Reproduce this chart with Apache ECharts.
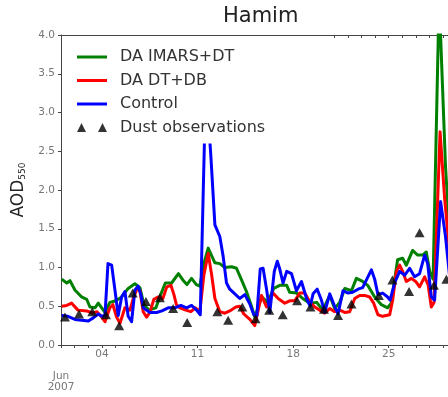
<!DOCTYPE html>
<html>
<head>
<meta charset="utf-8">
<script src="https://cdn.jsdelivr.net/npm/echarts@6/dist/echarts.min.js"></script>
<style>html,body{margin:0;padding:0;background:#fff;}#c{width:448px;height:397px;}</style>
</head>
<body>
<div id="c"></div>
<script>
// x values are days since 1 June 2007 00:00
const tickDays = [3, 10, 17, 24];
const tickLabels = ['04', '11', '18', '25'];
const yTicks = [0, 0.5, 1.0, 1.5, 2.0, 2.5, 3.0, 3.5, 4.0];

const greenDays = [0.05,0.42,0.66,1.02,1.51,1.88,2.12,2.49,2.73,2.98,3.22,3.58,4.02,4.44,4.92,5.41,5.78,6.07,6.44,6.95,7.32,7.64,8.1,8.6,8.92,9.22,9.56,9.91,10.17,10.46,10.78,11.27,11.63,12.0,12.49,12.85,13.22,13.58,13.95,14.19,14.7,15.14,15.58,16.02,16.53,16.75,17.26,17.7,18.21,18.73,19.17,19.68,20.04,20.41,20.78,21.27,21.63,22.09,22.46,22.97,23.46,23.92,24.19,24.43,24.65,25.02,25.29,25.75,26.12,26.48,26.75,27.0,27.25,27.69,28.16,28.6];
const greenVals = [0.85,0.80,0.83,0.71,0.62,0.59,0.49,0.48,0.54,0.48,0.42,0.55,0.57,0.62,0.73,0.79,0.74,0.52,0.45,0.48,0.66,0.80,0.80,0.92,0.84,0.78,0.86,0.78,0.76,1.05,1.25,1.06,1.05,1.00,1.01,0.99,0.84,0.69,0.50,0.36,0.62,0.55,0.73,0.77,0.77,0.68,0.67,0.60,0.54,0.55,0.45,0.64,0.47,0.55,0.73,0.70,0.86,0.82,0.77,0.62,0.52,0.48,0.54,0.84,1.10,1.12,1.03,1.22,1.16,1.16,1.20,0.95,0.85,4.5,2.3,1.0];

const redDays = [0.05,0.42,0.78,1.24,1.88,2.34,2.63,2.98,3.22,3.58,3.8,4.07,4.32,4.68,5.05,5.29,5.6,5.78,6.02,6.27,6.51,6.8,7.1,7.46,7.75,8.05,8.27,8.45,8.7,9.14,9.51,9.84,10.17,10.46,10.78,11.02,11.27,11.63,12.0,12.36,12.8,13.09,13.39,13.83,14.19,14.68,15.05,15.53,15.9,16.39,16.75,17.12,17.48,17.85,18.21,18.58,18.95,19.31,19.68,20.04,20.41,20.78,21.14,21.51,21.87,22.24,22.6,22.9,23.21,23.56,24.07,24.29,24.56,24.8,25.02,25.29,25.66,25.97,26.26,26.63,26.88,27.12,27.32,27.76,28.09,28.31,28.6];
const redVals = [0.50,0.51,0.54,0.45,0.44,0.41,0.43,0.36,0.30,0.48,0.52,0.36,0.28,0.48,0.45,0.60,0.74,0.70,0.43,0.36,0.42,0.59,0.62,0.60,0.75,0.77,0.65,0.52,0.48,0.45,0.43,0.48,0.43,0.90,1.18,0.92,0.60,0.43,0.41,0.44,0.49,0.50,0.40,0.33,0.25,0.64,0.49,0.67,0.60,0.54,0.57,0.57,0.67,0.67,0.56,0.49,0.45,0.41,0.47,0.43,0.45,0.42,0.43,0.60,0.64,0.64,0.62,0.54,0.39,0.37,0.39,0.58,0.95,1.03,0.95,0.82,0.86,0.82,0.75,0.88,0.78,0.49,0.55,2.75,1.90,1.48,0.90];

const blueDays = [0.05,0.51,1.02,1.51,2.0,2.36,2.73,2.98,3.22,3.44,3.71,3.95,4.19,4.44,4.68,4.92,5.17,5.41,5.65,5.85,6.02,6.51,7.0,7.39,7.85,8.34,8.78,9.2,9.56,9.93,10.2,10.61,10.97,11.27,11.63,11.87,12.12,12.36,12.73,13.09,13.46,13.83,14.12,14.34,14.59,14.8,15.07,15.29,15.62,15.84,16.02,16.26,16.53,16.88,17.24,17.61,17.98,18.25,18.46,18.76,19.07,19.31,19.68,20.04,20.29,20.65,21.02,21.36,21.75,22.09,22.37,22.73,22.97,23.21,23.56,23.92,24.1,24.43,24.8,25.17,25.53,25.89,26.26,26.63,26.85,27.12,27.36,27.8,28.16,28.45];
const blueVals = [0.38,0.37,0.33,0.32,0.31,0.35,0.40,0.37,0.38,1.05,1.03,0.71,0.38,0.62,0.69,0.37,0.30,0.71,0.76,0.65,0.48,0.42,0.42,0.44,0.48,0.48,0.51,0.48,0.51,0.45,0.39,3.4,2.45,1.55,1.4,1.15,0.80,0.72,0.66,0.60,0.65,0.53,0.39,0.38,0.98,0.99,0.70,0.42,0.95,1.08,0.98,0.80,0.95,0.92,0.70,0.82,0.60,0.50,0.66,0.72,0.58,0.42,0.66,0.50,0.40,0.70,0.67,0.68,0.72,0.74,0.84,0.97,0.85,0.65,0.67,0.62,0.58,0.80,0.95,0.90,0.99,0.88,0.92,1.16,1.05,0.62,0.58,1.85,1.40,0.90];

const dustDays = [0.29,1.32,2.29,3.29,4.26,5.25,6.22,7.24,8.21,9.24,11.45,12.24,13.28,14.25,15.25,16.24,17.29,18.27,19.26,20.29,21.27,23.28,24.27,25.49,26.26,27.31,28.22];
const dustVals = [0.36,0.40,0.43,0.39,0.25,0.67,0.56,0.61,0.47,0.29,0.43,0.32,0.49,0.34,0.45,0.39,0.57,0.49,0.46,0.38,0.53,0.64,0.84,0.69,1.45,0.77,0.85];

const zip = (xs, ys) => xs.map((x, i) => [x, ys[i]]);
const FONT = 'DejaVu Sans';
const AX = '#444';
const LINE_ICON = 'path://M0,0L30,0L30,3L0,3Z';

const chart = echarts.init(document.getElementById('c'), null, {renderer: 'canvas'});
chart.setOption({
  animation: false,
  backgroundColor: '#fff',
  textStyle: {fontFamily: FONT},
  title: {
    text: 'Hamim', left: 223, top: 6, padding: 0,
    textStyle: {fontSize: 21, fontWeight: 'normal', color: '#222', fontFamily: FONT}
  },
  grid: {left: 61, top: 35, right: -9, bottom: 52, outerBoundsMode: 'none', containLabel: false},
  legend: {
    left: 62, top: 36, orient: 'vertical',
    backgroundColor: '#fff', borderWidth: 0,
    padding: [12, 60, 7, 15],
    itemWidth: 30, itemHeight: 9, itemGap: 5.5,
    textStyle: {fontSize: 16, color: '#333', lineHeight: 18, fontFamily: FONT, padding: [0, 0, 0, 8]},
    data: [
      {name: 'DA IMARS+DT', icon: LINE_ICON},
      {name: 'DA DT+DB', icon: LINE_ICON},
      {name: 'Control', icon: LINE_ICON},
      {name: 'Dust observations', icon: 'path://M0,9L4.5,0L9,9Z M21,9L25.5,0L30,9Z'}
    ]
  },
  xAxis: [{
    type: 'value', min: 0, max: 29, interval: 1, position: 'bottom',
    axisLine: {show: true, lineStyle: {color: AX, width: 1}},
    axisTick: {show: true, inside: false, length: 3, lineStyle: {color: AX}},
    splitLine: {show: false},
    axisLabel: {
      color: '#777', fontSize: 10.5, lineHeight: 11, margin: 4, fontFamily: FONT,
      formatter: function (v) {
        if (v === 0) return '\n\nJun\n2007';
        const i = tickDays.indexOf(v);
        return i >= 0 ? tickLabels[i] : '';
      }
    }
  }, {
    type: 'value', min: 0, max: 29, interval: 1, position: 'top',
    axisLine: {show: true, lineStyle: {color: AX, width: 1}},
    axisTick: {show: true, inside: true, length: 3, lineStyle: {color: AX}},
    splitLine: {show: false},
    axisLabel: {show: false}
  }],
  yAxis: {
    type: 'value', min: 0, max: 4, interval: 0.5,
    axisLine: {show: true, lineStyle: {color: AX, width: 1}},
    axisTick: {show: true, inside: false, length: 3, lineStyle: {color: AX}},
    splitLine: {show: false},
    axisLabel: {
      color: '#777', fontSize: 10.5, margin: 6, fontFamily: FONT,
      formatter: function (v) { return yTicks.indexOf(v) >= 0 ? v.toFixed(1) : ''; }
    },
    name: '{a|AOD}{b|550}', nameLocation: 'middle', nameRotate: 90, nameGap: 25,
    nameTextStyle: {
      rich: {
        a: {fontSize: 17, color: '#222', fontFamily: FONT},
        b: {fontSize: 9, color: '#222', fontFamily: FONT, verticalAlign: 'bottom', padding: [6, 0, 0, 0]}
      }
    }
  },
  series: [
    {type: 'line', name: 'DA IMARS+DT', data: zip(greenDays, greenVals), symbol: 'none', showSymbol: false,
     lineStyle: {color: '#008000', width: 3, join: 'round'}, itemStyle: {color: '#008000'}, z: 2},
    {type: 'line', name: 'DA DT+DB', data: zip(redDays, redVals), symbol: 'none', showSymbol: false,
     lineStyle: {color: '#ff0000', width: 3, join: 'round'}, itemStyle: {color: '#ff0000'}, z: 2},
    {type: 'line', name: 'Control', data: zip(blueDays, blueVals), symbol: 'none', showSymbol: false,
     lineStyle: {color: '#0000ff', width: 3, join: 'round'}, itemStyle: {color: '#0000ff'}, z: 2},
    {type: 'scatter', name: 'Dust observations', data: zip(dustDays, dustVals), symbol: 'triangle',
     symbolSize: [10, 9], itemStyle: {color: '#000'}, z: 3}
  ]
});
</script>
</body>
</html>
